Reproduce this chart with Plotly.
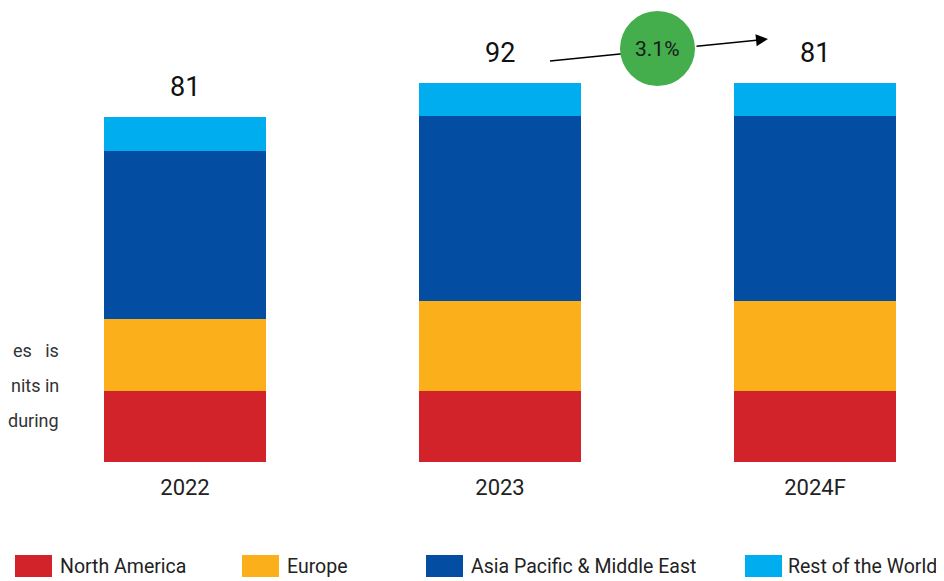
import plotly.graph_objects as go

categories = ["2022", "2023", "2024F"]
total_labels = ["81", "92", "81"]
north_america = [16.7, 16.7, 16.7]
europe = [16.9, 21.1, 21.1]
asia_pacific_me = [39.4, 43.4, 43.4]
rest_of_world = [8.0, 7.7, 7.7]
growth_label = "3.1%"
side_text = ["es   is", "nits in", "during"]

series = [
    ("North America", north_america, "#D2232A"),
    ("Europe", europe, "#FBAF1A"),
    ("Asia Pacific & Middle East", asia_pacific_me, "#034EA2"),
    ("Rest of the World", rest_of_world, "#00AEEF"),
]

OFF = 8  # page body margin
W, H = 944 - OFF, 581 - OFF
base_px = 462 - OFF
x_idx = list(range(len(categories)))

fig = go.Figure()
for name, vals, col in series:
    fig.add_trace(go.Bar(x=x_idx, y=vals, name=name, marker=dict(color=col, line=dict(width=0)),
                         width=0.514, showlegend=False))

totals = [sum(v) for v in zip(*[s[1] for s in series])]
FONT = "Roboto, Arial, sans-serif"

annotations = []
for i, (t, lab) in enumerate(zip(totals, total_labels)):
    annotations.append(dict(x=i, y=t, xref="x", yref="y", text=lab, showarrow=False,
                            xanchor="center", yanchor="bottom", yshift=12,
                            font=dict(size=27, color="#111", family=FONT)))

def py(p):
    return (base_px - (p - OFF)) / base_px

def px(p):
    return (p - OFF) / W

# side text fragments
for k, txt in enumerate(side_text):
    annotations.append(dict(x=px(61), y=py(350 + 35 * k), xref="paper", yref="paper", text=txt,
                            showarrow=False, xanchor="right", yanchor="middle",
                            font=dict(size=18, color="#333", family=FONT)))

shapes = []
# arrow line (tail part, behind circle)
shapes.append(dict(type="line", xref="paper", yref="paper", x0=px(550), y0=py(61), x1=px(640), y1=py(52),
                   line=dict(color="black", width=1.5)))
# growth circle
shapes.append(dict(type="circle", xref="paper", yref="paper", x0=px(620), x1=px(695), y0=py(11), y1=py(86),
                   fillcolor="#43AE4B", line=dict(width=0)))
# arrow head part
annotations.append(dict(x=px(768), y=py(39), xref="paper", yref="paper", ax=-73, ay=7.4,
                        showarrow=True, arrowhead=2, arrowsize=1.6,
                        arrowwidth=1.5, arrowcolor="black", text=""))
annotations.append(dict(x=px(657.5), y=py(49), xref="paper", yref="paper", text=growth_label, showarrow=False,
                        xanchor="center", yanchor="middle",
                        font=dict(size=21, color="#1a1a1a", family=FONT)))

# manual legend
legend_pos = [(15, 58), (242, 285), (426, 469), (745, 786)]
for (name, vals, col), (bx, tx) in zip(series, legend_pos):
    shapes.append(dict(type="rect", xref="paper", yref="paper", x0=px(bx), x1=px(bx + 37),
                       y0=py(555), y1=py(577), fillcolor=col, line=dict(width=0)))
    annotations.append(dict(x=px(tx), y=py(566), xref="paper", yref="paper", text=name, showarrow=False,
                            xanchor="left", yanchor="middle", font=dict(size=19.5, color="#222", family=FONT)))

scale = 345 / 81.0  # px per unit
x0_val = -(185 - OFF) / 315
x1_val = (944 - 185) / 315

fig.update_layout(
    width=W, height=H,
    margin=dict(l=0, r=0, t=0, b=H - base_px),
    plot_bgcolor="white", paper_bgcolor="white",
    barmode="stack", bargap=0,
    font=dict(family=FONT),
    xaxis=dict(range=[x0_val, x1_val], tickvals=x_idx, ticktext=categories, showgrid=False,
               zeroline=False, showline=False, ticks="outside", ticklen=6, tickcolor="rgba(0,0,0,0)",
               tickfont=dict(size=22, color="#222", family=FONT)),
    yaxis=dict(range=[0, base_px / scale], visible=False, showgrid=False, zeroline=False),
    annotations=annotations,
    shapes=shapes,
    showlegend=False,
)

fig.write_html("out.html")
